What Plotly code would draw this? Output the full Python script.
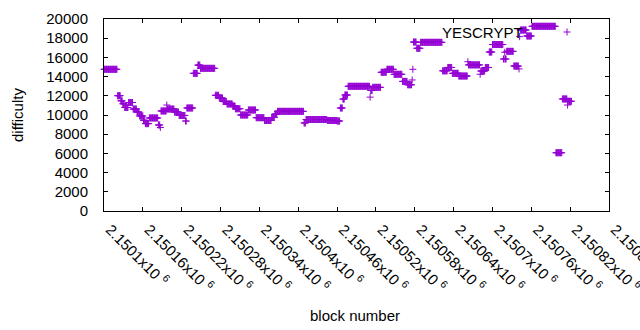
import plotly.graph_objects as go

# ---- data ----
base_block = 2150100
# runs of constant difficulty: start offset (blocks after base_block) and value
run_start = [0, 21, 26, 29, 32, 38, 45, 51, 55, 61, 64, 70, 84, 87, 88, 97, 98, 109, 116, 126,
             128, 138, 145, 149, 172, 178, 184, 190, 199, 203, 211, 223, 235, 248, 259, 264, 268,
             309, 312, 345, 360, 365, 369, 372, 377, 411, 412, 415, 428, 437, 448, 461, 469, 476,
             477, 478, 483, 489, 523, 531, 538, 548, 562, 563, 581, 582, 589, 595, 600, 617, 619,
             620, 622, 633, 641, 642, 643, 653, 661, 698, 708, 716, 717]
run_difficulty = [14760, 12010, 11480, 11170, 10780, 11300, 10620, 10310, 9900, 9450, 9100, 9690,
                  8960, 8700, 10420, 11040, 10620, 10310, 9950, 9375,
                  10730, 14340, 15200, 14860, 12050, 11770, 11400, 11150, 10940, 10650, 10000,
                  10520, 9720, 9430, 9740, 10100, 10380,
                  9170, 9530, 9430, 9375, 10730, 11660, 12080, 12990, 11860, 12550, 12880, 14450,
                  14760, 14240, 13500, 13150, 13650,
                  14760, 17600, 16950, 17570, 14600, 14950, 14340, 14060, 15550, 15220, 14240,
                  14580, 14950, 16560, 17340, 15830, 16530,
                  15830, 16630, 15100, 14800, 18160, 18850, 18230, 19240, 6070, 11670, 11040, 11430]
last_offset = 722
assert len(run_start) == len(run_difficulty)

x_tick_vals = [2150100, 2150160, 2150220, 2150280, 2150340, 2150400, 2150460,
               2150520, 2150580, 2150640, 2150700, 2150760, 2150820, 2150880]
x_tick_text = ["2.1501x10", "2.15016x10", "2.15022x10", "2.15028x10", "2.15034x10",
               "2.1504x10", "2.15046x10", "2.15052x10", "2.15058x10", "2.15064x10",
               "2.1507x10", "2.15076x10", "2.15082x10", "2.15088x10"]
y_tick_vals = [0, 2000, 4000, 6000, 8000, 10000, 12000, 14000, 16000, 18000, 20000]
y_tick_text = ["0", "2000", "4000", "6000", "8000", "10000", "12000", "14000",
               "16000", "18000", "20000"]
series_name = "YESCRYPT"

# expand runs: one point per block
blocks, diffs = [], []
ends = run_start[1:] + [last_offset + 1]
for s, e, v in zip(run_start, ends, run_difficulty):
    for o in range(s, e):
        blocks.append(base_block + o)
        diffs.append(v)

color = "#9400d3"
font = "Liberation Sans, Arial, sans-serif"

fig = go.Figure()
fig.add_trace(go.Scatter(
    x=blocks, y=diffs, mode="markers", name=series_name, showlegend=False,
    marker=dict(symbol="cross-thin", size=5, line=dict(color=color, width=1), color=color),
    cliponaxis=False, hoverinfo="skip",
))

L, R, T, B = 104, 609, 19, 211
W, H = 640, 330
pw, ph = R - L, B - T

fig.update_layout(
    width=W, height=H, autosize=False,
    margin=dict(l=L, r=W - R, t=T, b=H - B, pad=0),
    paper_bgcolor="white", plot_bgcolor="white",
    font=dict(family=font, size=14, color="black"),
    xaxis=dict(range=[2150100, 2150880], tickvals=x_tick_vals,
               ticktext=[t + " <sup>6</sup>" for t in x_tick_text],
               tickangle=45, ticks="inside", ticklen=4, tickcolor="black",
               showline=True, linecolor="black", linewidth=1, mirror="ticks",
               showgrid=False, zeroline=False, ticklabelstandoff=3, ticklabelshift=6,
               ticklabeloverflow="allow",
               automargin=False, tickfont=dict(size=15)),
    yaxis=dict(range=[0, 20000], tickvals=y_tick_vals, ticktext=y_tick_text,
               ticks="inside", ticklen=4, tickcolor="black",
               showline=True, linecolor="black", linewidth=1, mirror="ticks",
               showgrid=False, zeroline=False, ticklabelstandoff=12, automargin=False,
               tickfont=dict(size=15)),
)

# axis titles
fig.add_annotation(text="block number", xref="paper", yref="paper",
                   x=(355 - L) / pw, y=(B - 315) / ph, showarrow=False,
                   xanchor="center", yanchor="middle", font=dict(size=15))
fig.add_annotation(text="difficulty", xref="paper", yref="paper",
                   x=(17 - L) / pw, y=(B - 115) / ph, showarrow=False, textangle=-90,
                   xanchor="center", yanchor="middle", font=dict(size=15))
# key
kx, ky = 567, 32
fig.add_annotation(text=series_name, xref="paper", yref="paper",
                   x=(525 - L) / pw, y=(B - ky) / ph, showarrow=False,
                   xanchor="right", yanchor="middle", font=dict(size=15))
fig.add_shape(type="line", xref="paper", yref="paper",
              x0=(kx - 3.5 - L) / pw, x1=(kx + 3.5 - L) / pw,
              y0=(B - ky) / ph, y1=(B - ky) / ph, line=dict(color=color, width=1))
fig.add_shape(type="line", xref="paper", yref="paper",
              x0=(kx - L) / pw, x1=(kx - L) / pw,
              y0=(B - ky - 3.5) / ph, y1=(B - ky + 3.5) / ph, line=dict(color=color, width=1))

fig.write_html("out.html", config={"displayModeBar": False},
               post_script="document.body.style.margin='0';document.body.style.overflow='hidden';")
